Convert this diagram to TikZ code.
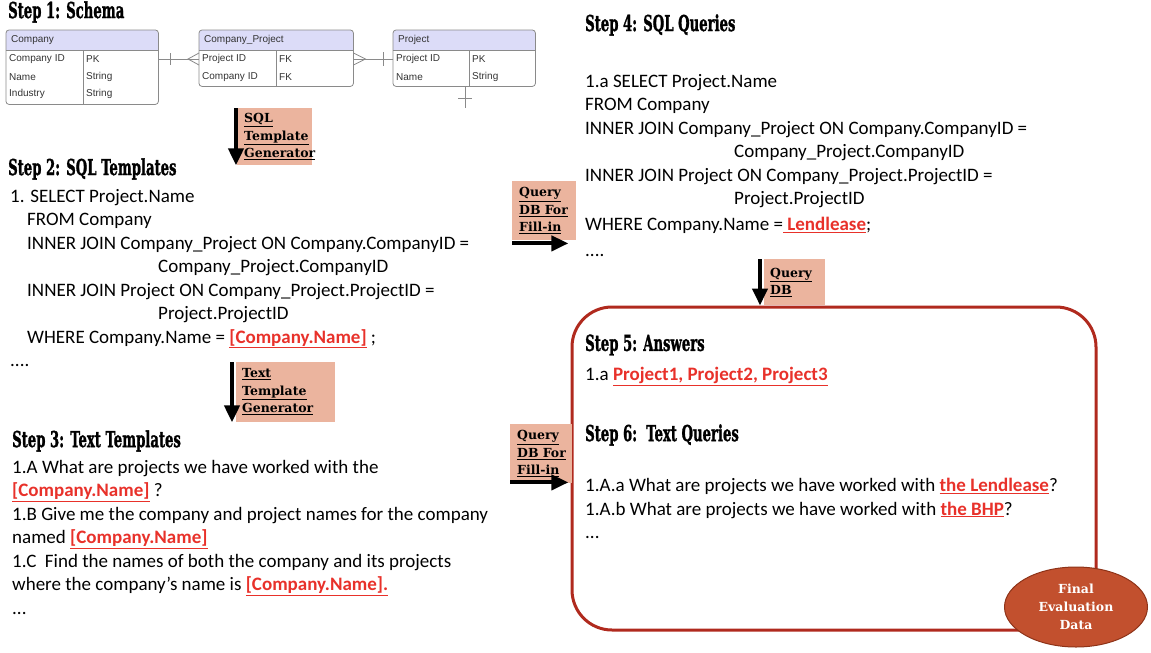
\documentclass[tikz,border=0pt]{standalone}
\usepackage{fontspec}
\setmainfont{Carlito}
\newfontfamily\headfont{DejaVu Serif}[BoldFeatures={FakeBold=1.6}]
\newfontfamily\labelfont{DejaVu Serif}
\newfontfamily\schemafont{Liberation Sans}
\usetikzlibrary{arrows.meta,shapes.geometric}

\definecolor{salmon}{HTML}{EBB49E}
\definecolor{headfill}{HTML}{DCDCF8}
\definecolor{tblline}{HTML}{8A8A8A}
\definecolor{hired}{HTML}{E8312A}
\definecolor{framered}{HTML}{B02A1E}
\definecolor{ovalfill}{HTML}{C2502E}
\definecolor{ovaldraw}{HTML}{8E3318}

\newcommand{\stephead}[1]{\scalebox{0.6}[1]{\headfont\bfseries #1}}
\newcommand{\redfill}[1]{\textcolor{hired}{\bfseries\underline{#1}}}

\begin{document}
\begin{tikzpicture}[x=1pt, y=-1pt,
    head/.style={anchor=west, inner sep=0pt, font=\fontsize{22}{24}\selectfont},
    body/.style={anchor=north west, inner sep=0pt, align=left, font=\fontsize{19}{23.5}\selectfont},
    genbox/.style={fill=salmon, anchor=north west, align=left, inner ysep=0pt,
        font=\labelfont\bfseries\fontsize{12.5}{17.5}\selectfont},
    bigarrow/.style={line width=4pt, -{Triangle[length=17pt, width=15pt]}},
    tbl/.style={anchor=north west, inner sep=0pt},
    cell/.style={anchor=west, inner sep=0pt, text=black!80,
        font=\schemafont\fontsize{10}{11}\selectfont},
    erline/.style={draw=tblline, line width=0.8pt},
    frame/.style={draw=framered, line width=3pt, rounded corners=40pt,
        minimum width=524pt, minimum height=323pt},
    final/.style={ellipse, fill=ovalfill, draw=ovaldraw, line width=1pt, inner sep=0pt,
        minimum width=143pt, minimum height=80pt, align=center, text=white,
        font=\labelfont\bfseries\fontsize{12.5}{18}\selectfont}]

    \useasboundingbox (0,0) rectangle (1151,653);

    % step 1: schema
    \path node (h1) [head] at (8,12) {\stephead{Step 1: Schema}};

    \fill[headfill, rounded corners=3pt] (6,30) rectangle (158,50);
    \fill[headfill] (6,40) rectangle (158,50);
    \fill[headfill, rounded corners=3pt] (199,30) rectangle (353,50);
    \fill[headfill] (199,40) rectangle (353,50);
    \fill[headfill, rounded corners=3pt] (393,30) rectangle (535,50);
    \fill[headfill] (393,40) rectangle (535,50);

    \path node (company) [tbl, minimum width=152pt, minimum height=74pt] at (6,30) {};
    \path node (cpt) [tbl, minimum width=154pt, minimum height=56pt] at (199,30) {};
    \path node (prt) [tbl, minimum width=142pt, minimum height=56pt] at (393,30) {};

    \draw[erline, rounded corners=3pt] (company.north west) rectangle (company.south east);
    \draw[erline, rounded corners=3pt] (cpt.north west) rectangle (cpt.south east);
    \draw[erline, rounded corners=3pt] (prt.north west) rectangle (prt.south east);
    \draw[erline] (6,50) -- (158,50) (83,50) -- (company.south -| 83,0);
    \draw[erline] (199,50) -- (353,50) (276,50) -- (cpt.south -| 276,0);
    \draw[erline] (393,50) -- (535,50) (469,50) -- (prt.south -| 469,0);

    \path node (cname) [cell] at (11,40) {Company};
    \path node (cid) [cell] at (9,59) {Company ID};
    \path node (cidk) [cell] at (86,59) {PK};
    \path node (cnm) [cell] at (9,77) {Name};
    \path node (cnmk) [cell] at (86,77) {String};
    \path node (cind) [cell] at (9,94) {Industry};
    \path node (cindk) [cell] at (86,94) {String};

    \path node (cpname) [cell] at (204,40) {Company\_Project};
    \path node (cpid) [cell] at (202,59) {Project ID};
    \path node (cpidk) [cell] at (279,59) {FK};
    \path node (cpcid) [cell] at (202,77) {Company ID};
    \path node (cpcidk) [cell] at (279,77) {FK};

    \path node (prname) [cell] at (398,40) {Project};
    \path node (prid) [cell] at (396,59) {Project ID};
    \path node (pridk) [cell] at (472,59) {PK};
    \path node (prnm) [cell] at (396,77) {Name};
    \path node (prnmk) [cell] at (472,77) {String};

    \draw[erline] (company.east |- cpid) -- (cpt.west |- cpid);
    \draw[erline] (company.east |- cpid) ++(12,-6) -- ++(0,12);
    \draw[erline] (cpt.west |- cpid) ++(0,-6) -- ++(-11,6) -- ++(11,6);
    \draw[erline] (cpt.east |- prid) -- (prt.west |- prid);
    \draw[erline] (cpt.east |- prid) ++(0,-6) -- ++(12,6) -- ++(-12,6);
    \draw[erline] (prt.west |- prid) ++(-10,-7) -- ++(0,14);
    \coordinate (prstub) at (465,108);
    \draw[erline] (prt.south -| prstub) -- (prstub);
    \draw[erline] (prstub) ++(-7,-10) -- ++(14,0);

    % step 2: sql templates
    \path node (sqlgen) [genbox, text width=61pt, inner xsep=7pt, minimum height=57pt] at (237,108)
        {\underline{SQL}\\\underline{Template}\\\underline{Generator}};
    \draw[bigarrow] ([xshift=-1pt]sqlgen.north west) -- ([xshift=-1pt]sqlgen.south west);

    \path node (h2) [head] at (8,169) {\stephead{Step 2: SQL Templates}};
    \path node (sqltpl) [body] at (10,189) {1. SELECT Project.Name\\
        \hspace*{17pt}FROM Company\\
        \hspace*{17pt}INNER JOIN Company\_Project ON Company.CompanyID =\\
        \hspace*{148pt}Company\_Project.CompanyID\\
        \hspace*{17pt}INNER JOIN Project ON Company\_Project.ProjectID =\\
        \hspace*{148pt}Project.ProjectID\\
        \hspace*{17pt}WHERE Company.Name = \redfill{[Company.Name]} ;\\
        ....};

    % step 3: text templates
    \path node (textgen) [genbox, text width=87pt, inner xsep=6pt, minimum height=60pt] at (236,362)
        {\underline{Text}\\\underline{Template}\\\underline{Generator}\vphantom{g}};
    \draw[bigarrow] ([xshift=-4pt]textgen.north west) -- ([xshift=-4pt]textgen.south west);

    \path node (h3) [head] at (12,441) {\stephead{Step 3: Text Templates}};
    \path node (texttpl) [body] at (12,460) {1.A What are projects we have worked with the\\
        \redfill{[Company.Name]} ?\\
        1.B Give me the company and project names for the company\\
        named \redfill{[Company.Name]}\\
        1.C\ \ Find the names of both the company and its projects\\
        where the company's name is \redfill{[Company.Name].}\\
        ...};

    % step 4: sql queries
    \path node (fill1) [genbox, text width=50pt, inner xsep=7pt, minimum height=59pt] at (512,181)
        {\underline{Query}\\\underline{DB For}\\\underline{Fill-in}};
    \draw[bigarrow] ([yshift=-3pt]fill1.south west) -- ([xshift=-8pt,yshift=-3pt]fill1.south east);

    \path node (h4) [head] at (585,25) {\stephead{Step 4: SQL Queries}};
    \path node (sqlq) [body] at (585,74) {1.a SELECT Project.Name\\
        FROM Company\\
        INNER JOIN Company\_Project ON Company.CompanyID =\\
        \hspace*{149pt}Company\_Project.CompanyID\\
        INNER JOIN Project ON Company\_Project.ProjectID =\\
        \hspace*{149pt}Project.ProjectID\\[2pt]
        WHERE Company.Name =\redfill{\ Lendlease};\\[3pt]
        ....};

    % steps 5 and 6
    \path node (answers) [frame] at (834,468.5) {};

    \path node (querydb) [genbox, text width=49pt, inner xsep=6pt, minimum height=46pt] at (764,259)
        {\underline{Query}\\\underline{DB}};
    \coordinate (qdbtop) at ([xshift=-4pt]querydb.north west);
    \draw[bigarrow] (qdbtop) -- (qdbtop |- answers.north);

    \path node (h5) [head] at (585,345) {\stephead{Step 5: Answers}};
    \path node (ans) [body] at (585,367) {1.a \redfill{Project1, Project2, Project3}};

    \path node (fill2) [genbox, text width=48pt, inner xsep=7pt, minimum height=59pt] at (510,424)
        {\underline{Query}\\\underline{DB For}\\\underline{Fill-in}};
    \draw[bigarrow] ([yshift=1pt]fill2.south west) -- ([xshift=-4pt,yshift=1pt]fill2.south east);

    \path node (h6) [head] at (585,435) {\stephead{Step 6:\ \ Text Queries}};
    \path node (textq) [body] at (585,478) {1.A.a What are projects we have worked with \redfill{the Lendlease}?\\
        1.A.b What are projects we have worked with \redfill{the BHP}?\\
        ...};

    \path node (final) [final] at (1076,607) {Final\\Evaluation\\Data};

\end{tikzpicture}
\end{document}
